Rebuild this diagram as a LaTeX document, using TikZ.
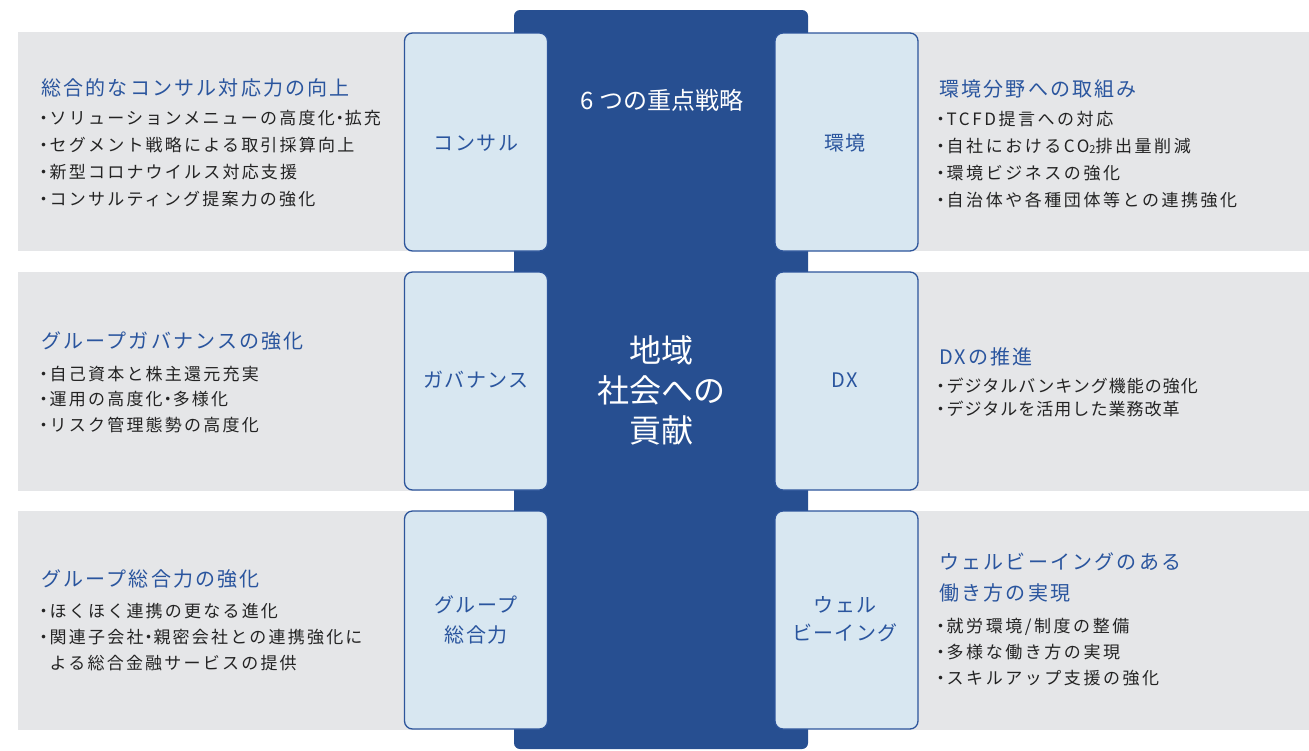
\documentclass[tikz,border=0pt]{standalone}
\usepackage{fontspec}
\setmainfont{Noto Sans CJK JP}
\newfontfamily\jpT[LetterSpace=11]{Noto Sans CJK JP}
\newfontfamily\jpI[LetterSpace=13]{Noto Sans CJK JP}
\newfontfamily\jpR[LetterSpace=15]{Noto Sans CJK JP}
\newfontfamily\jpD[LetterSpace=6]{Noto Sans CJK JP}
\newfontfamily\jpL[LetterSpace=7]{Noto Sans CJK JP}
\newfontfamily\jpC{Noto Sans CJK JP}
\newcommand\bul{\hbox to 12pt{\hss・\hss}}
\newcommand\mdot{\hbox to 10pt{\hss・\hss}}
\newcommand\ind{\hbox to 12pt{}}
\definecolor{barblue}{RGB}{39,79,145}
\definecolor{boxfill}{RGB}{216,231,241}
\definecolor{boxline}{RGB}{45,85,155}
\definecolor{rowgray}{RGB}{229,230,232}
\definecolor{ttlblue}{RGB}{42,85,158}
\definecolor{bodytxt}{RGB}{35,35,35}
\begin{document}
\begin{tikzpicture}[x=1pt,y=-1pt,
  bar/.style={fill=barblue, draw=none, rounded corners=6pt, minimum width=294pt, minimum height=739pt, inner sep=0pt},
  rowbg/.style={fill=rowgray, draw=none, inner sep=0pt, minimum height=219pt},
  pillar/.style={fill=boxfill, draw=boxline, line width=1.3pt, rounded corners=8pt, minimum width=143pt, minimum height=218pt, inner sep=0pt},
  ttl/.style={anchor=west, inner sep=0pt, text=ttlblue, align=left, font=\jpT\fontsize{20}{31}\selectfont},
  itm/.style={anchor=west, inner sep=0pt, text=bodytxt, align=left, font=\jpI\fontsize{17}{#1}\selectfont},
  itm/.default=27,
  ritm/.style={anchor=west, inner sep=0pt, text=bodytxt, align=left, font=\jpR\fontsize{17}{#1}\selectfont},
  ritm/.default=27,
  ditm/.style={anchor=west, inner sep=0pt, text=bodytxt, align=left, font=\jpD\fontsize{17}{23.5}\selectfont},
  lbl/.style={inner sep=0pt, text=ttlblue, align=center, font=\jpL\fontsize{20}{#1}\selectfont},
  lbl/.default=30,
  ctr/.style={inner sep=0pt, text=white, align=center, font=\jpC\fontsize{#1}{40}\selectfont}
]
\useasboundingbox (0,0) rectangle (1309,750);
% central bar
\node[bar] (bar) at (661,379.5) {};
% grey rows
\node[rowbg, minimum width=402pt] (gL1) at (219,141.5) {};
\node[rowbg, minimum width=402pt] (gL2) at (219,381) {};
\node[rowbg, minimum width=402pt] (gL3) at (219,620.5) {};
\node[rowbg, minimum width=409pt] (gR1) at (1104.5,141.5) {};
\node[rowbg, minimum width=409pt] (gR2) at (1104.5,381) {};
\node[rowbg, minimum width=409pt] (gR3) at (1104.5,620.5) {};
% pillar boxes
\node[pillar] (bL1) at (476,142) {};
\node[pillar] (bL2) at (476,381) {};
\node[pillar] (bL3) at (476,620) {};
\node[pillar] (bR1) at (846.5,142) {};
\node[pillar] (bR2) at (846.5,381) {};
\node[pillar] (bR3) at (846.5,620) {};
% box labels
\node[lbl] (lL1) at (476,143) {コンサル};
\node[lbl] (lR1) at (845,143) {環境};
\node[lbl] (lL2) at (476,380) {ガバナンス};
\node[lbl] (lR2) at (845,380) {DX};
\node[lbl=30] (lL3) at (476,620) {グループ\\総合力};
\node[lbl=28] (lR3) at (845,619) {ウェル\\ビーイング};
% centre texts
\node[ctr=24] (c1) at (662,100) {6\kern0.22emつの重点戦略};
\node[ctr=32] (c2) at (661,390) {地域\\社会への\\貢献};
% row 1
\node[ttl] (tL1) at (41,88) {総合的なコンサル対応力の向上};
\node[itm] (iL1) at (37.5,159) {\bul ソリューションメニューの高度化\mdot 拡充\\\bul セグメント戦略による取引採算向上\\\bul 新型コロナウイルス対応支援\\\bul コンサルティング提案力の強化};
\node[ttl] (tR1) at (939,89) {環境分野への取組み};
\node[ritm] (iR1) at (934.5,160) {\bul TCFD提言への対応\\\bul 自社におけるCO\raisebox{-1pt}{\fontsize{11}{11}\selectfont 2}排出量削減\\\bul 環境ビジネスの強化\\\bul 自治体や各種団体等との連携強化};
% row 2
\node[ttl] (tL2) at (41,341) {グループガバナンスの強化};
\node[itm=25.5] (iL2) at (37.5,399.5) {\bul 自己資本と株主還元充実\\\bul 運用の高度化\mdot 多様化\\\bul リスク管理態勢の高度化};
\node[ttl] (tR2) at (939,357) {DXの推進};
\node[ditm] (iR2) at (934.5,397.5) {\bul デジタルバンキング機能の強化\\\bul デジタルを活用した業務改革};
% row 3
\node[ttl] (tL3) at (41,579) {グループ総合力の強化};
\node[itm=26] (iL3) at (37.5,637) {\bul ほくほく連携の更なる進化\\\bul 関連子会社\mdot 親密会社との連携強化に\\\ind よる総合金融サービスの提供};
\node[ttl] (tR3) at (939,577.5) {ウェルビーイングのある\\働き方の実現};
\node[ritm=26] (iR3) at (934.5,652) {\bul 就労環境/制度の整備\\\bul 多様な働き方の実現\\\bul スキルアップ支援の強化};
\end{tikzpicture}
\end{document}
